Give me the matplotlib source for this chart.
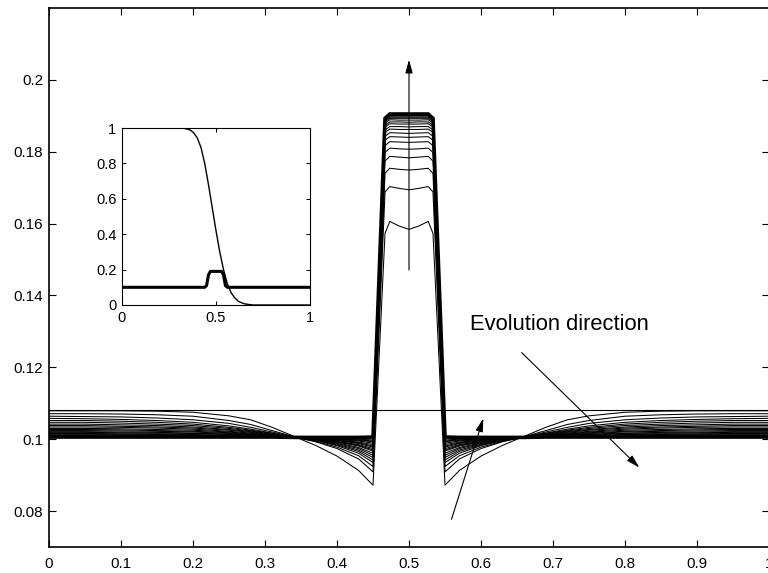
import matplotlib
matplotlib.use("Agg")
import matplotlib.pyplot as plt

plt.rcParams['font.family'] = ['Liberation Sans', 'DejaVu Sans']

# ---------------- data ----------------
# half grid (0 .. 0.5); the profiles are symmetric about x = 0.5
x_half = [0, 0.05, 0.1, 0.15, 0.2, 0.25, 0.28, 0.31, 0.34,
          0.37, 0.40, 0.43, 0.45, 0.4667, 0.4733, 0.4867, 0.5]

initial_level = 0.1082

# one row per time step, values on x_half
profiles_half = [
    [0.1079, 0.1079, 0.1079, 0.1078, 0.1075, 0.1065, 0.1054, 0.1033, 0.1008, 0.0983, 0.0953, 0.0913, 0.0872, 0.1573, 0.1606, 0.1593, 0.1584],
    [0.1071, 0.1071, 0.1070, 0.1068, 0.1064, 0.1052, 0.1041, 0.1024, 0.1007, 0.0993, 0.0974, 0.0945, 0.0909, 0.1688, 0.1703, 0.1698, 0.1694],
    [0.1064, 0.1063, 0.1062, 0.1059, 0.1054, 0.1044, 0.1033, 0.1020, 0.1006, 0.0994, 0.0978, 0.0954, 0.0924, 0.1740, 0.1754, 0.1751, 0.1749],
    [0.1058, 0.1057, 0.1055, 0.1052, 0.1047, 0.1037, 0.1028, 0.1017, 0.1006, 0.0996, 0.0982, 0.0961, 0.0935, 0.1774, 0.1787, 0.1785, 0.1783],
    [0.1052, 0.1052, 0.1050, 0.1047, 0.1042, 0.1033, 0.1025, 0.1016, 0.1005, 0.0997, 0.0984, 0.0966, 0.0942, 0.1798, 0.1810, 0.1808, 0.1807],
    [0.1047, 0.1047, 0.1045, 0.1042, 0.1038, 0.1030, 0.1023, 0.1014, 0.1005, 0.0997, 0.0986, 0.0970, 0.0949, 0.1817, 0.1828, 0.1827, 0.1826],
    [0.1042, 0.1042, 0.1040, 0.1038, 0.1034, 0.1027, 0.1021, 0.1013, 0.1005, 0.0998, 0.0988, 0.0974, 0.0955, 0.1832, 0.1842, 0.1841, 0.1840],
    [0.1038, 0.1038, 0.1036, 0.1034, 0.1031, 0.1025, 0.1019, 0.1012, 0.1005, 0.0999, 0.0990, 0.0977, 0.0961, 0.1843, 0.1853, 0.1852, 0.1851],
    [0.1034, 0.1034, 0.1033, 0.1031, 0.1028, 0.1022, 0.1017, 0.1011, 0.1005, 0.0999, 0.0992, 0.0981, 0.0967, 0.1854, 0.1863, 0.1862, 0.1862],
    [0.1030, 0.1030, 0.1029, 0.1027, 0.1025, 0.1020, 0.1015, 0.1010, 0.1005, 0.1000, 0.0993, 0.0983, 0.0970, 0.1861, 0.1870, 0.1870, 0.1869],
    [0.1027, 0.1027, 0.1026, 0.1024, 0.1022, 0.1018, 0.1014, 0.1010, 0.1005, 0.1000, 0.0994, 0.0985, 0.0974, 0.1869, 0.1878, 0.1877, 0.1877],
    [0.1024, 0.1024, 0.1023, 0.1022, 0.1020, 0.1016, 0.1013, 0.1009, 0.1005, 0.1001, 0.0996, 0.0988, 0.0978, 0.1874, 0.1883, 0.1883, 0.1882],
    [0.1021, 0.1021, 0.1020, 0.1019, 0.1017, 0.1014, 0.1011, 0.1008, 0.1005, 0.1001, 0.0997, 0.0990, 0.0981, 0.1880, 0.1889, 0.1888, 0.1888],
    [0.1019, 0.1019, 0.1018, 0.1017, 0.1016, 0.1013, 0.1011, 0.1008, 0.1004, 0.1002, 0.0998, 0.0992, 0.0985, 0.1884, 0.1893, 0.1893, 0.1893],
    [0.1016, 0.1016, 0.1015, 0.1015, 0.1013, 0.1011, 0.1009, 0.1007, 0.1004, 0.1002, 0.0999, 0.0995, 0.0989, 0.1887, 0.1896, 0.1896, 0.1896],
    [0.1014, 0.1014, 0.1014, 0.1013, 0.1012, 0.1010, 0.1008, 0.1006, 0.1004, 0.1003, 0.1000, 0.0997, 0.0993, 0.1890, 0.1899, 0.1899, 0.1899],
    [0.1012, 0.1012, 0.1012, 0.1011, 0.1010, 0.1009, 0.1008, 0.1006, 0.1004, 0.1003, 0.1001, 0.0998, 0.0995, 0.1892, 0.1901, 0.1901, 0.1901],
    [0.1010, 0.1010, 0.1010, 0.1009, 0.1009, 0.1008, 0.1007, 0.1005, 0.1004, 0.1003, 0.1002, 0.1000, 0.0998, 0.1894, 0.1903, 0.1903, 0.1903],
]
final_half = [0.1006, 0.1006, 0.1006, 0.1006, 0.1006, 0.1006, 0.1006, 0.1006, 0.1005,
              0.1005, 0.1005, 0.1005, 0.1006, 0.1893, 0.1905, 0.1905, 0.1905]

# inset: initial profile (smooth step) and final profile
inset_step_x = [0, 0.1, 0.2, 0.3, 0.33, 0.36, 0.38, 0.40, 0.42, 0.44, 0.46, 0.48, 0.50,
                0.52, 0.54, 0.56, 0.58, 0.60, 0.62, 0.65, 0.68, 0.7, 0.8, 0.9, 1.0]
inset_step_y = [1, 1, 1, 1, 0.998, 0.99, 0.975, 0.945, 0.89, 0.80, 0.68, 0.55, 0.42,
                0.30, 0.20, 0.12, 0.07, 0.04, 0.02, 0.007, 0.002, 0, 0, 0, 0]
inset_final_x = [0, 0.2, 0.44, 0.45, 0.46, 0.47, 0.5, 0.53, 0.54, 0.55, 0.56, 0.8, 1.0]
inset_final_y = [0.1, 0.1, 0.1, 0.11, 0.17, 0.19, 0.19, 0.19, 0.17, 0.11, 0.1, 0.1, 0.1]

x_ticks = [0, 0.1, 0.2, 0.3, 0.4, 0.5, 0.6, 0.7, 0.8, 0.9, 1.0]
x_tick_labels = ['0', '0.1', '0.2', '0.3', '0.4', '0.5', '0.6', '0.7', '0.8', '0.9', '1']
y_ticks = [0.08, 0.1, 0.12, 0.14, 0.16, 0.18, 0.2]
y_tick_labels = ['0.08', '0.1', '0.12', '0.14', '0.16', '0.18', '0.2']
inset_x_ticks = [0, 0.5, 1]
inset_x_labels = ['0', '0.5', '1']
inset_y_ticks = [0, 0.2, 0.4, 0.6, 0.8, 1]
inset_y_labels = ['0', '0.2', '0.4', '0.6', '0.8', '1']

annotation_text = 'Evolution direction'


def mirror(xh, yh):
    xs = list(xh) + [1 - v for v in reversed(xh[:-1])]
    ys = list(yh) + list(reversed(yh[:-1]))
    return xs, ys


# ---------------- figure ----------------
W, H = 768, 573
fig = plt.figure(figsize=(W / 100, H / 100), dpi=100)
ax = fig.add_axes([49 / W, 26 / H, 720 / W, 539 / H])

ax.axhline(initial_level, color='black', lw=0.8)
for prof in profiles_half:
    xs, ys = mirror(x_half, prof)
    ax.plot(xs, ys, color='black', lw=0.75)
xs, ys = mirror(x_half, final_half)
ax.plot(xs, ys, color='black', lw=2.6, solid_joinstyle='miter')

ax.set_xlim(0, 1)
ax.set_ylim(0.07, 0.22)
ax.set_xticks(x_ticks)
ax.set_xticklabels(x_tick_labels)
ax.set_yticks(y_ticks)
ax.set_yticklabels(y_tick_labels)
ax.tick_params(direction='in', top=True, right=True, length=5, width=0.8,
               labelsize=11)
ax.tick_params(axis='x', pad=7)
ax.tick_params(axis='y', pad=4)
for s in ax.spines.values():
    s.set_linewidth(1.2)

arrow_style = dict(arrowstyle='-|>,head_length=0.8,head_width=0.22',
                   color='black', lw=0.8, mutation_scale=10, shrinkA=0, shrinkB=0)
ax.annotate('', xy=(0.5, 0.2056), xytext=(0.5, 0.1471), arrowprops=arrow_style)
ax.annotate('', xy=(0.6032, 0.1058), xytext=(0.559, 0.0777), arrowprops=arrow_style)
ax.annotate('', xy=(0.820, 0.0921), xytext=(0.6565, 0.1241), arrowprops=arrow_style)
ax.text(0.585, 0.1318, annotation_text, fontsize=15.8, ha='left', va='center')

# inset
ax2 = fig.add_axes([122 / W, (H - 305) / H, 188 / W, 177 / H])
ax2.plot(inset_step_x, inset_step_y, color='black', lw=1.0)
ax2.plot(inset_final_x, inset_final_y, color='black', lw=2.2)
ax2.set_xlim(0, 1)
ax2.set_ylim(0, 1)
ax2.set_xticks(inset_x_ticks)
ax2.set_xticklabels(inset_x_labels)
ax2.set_yticks(inset_y_ticks)
ax2.set_yticklabels(inset_y_labels)
ax2.tick_params(direction='in', top=True, right=True, length=3, width=0.7,
                labelsize=10.5, pad=4)
for s in ax2.spines.values():
    s.set_linewidth(0.8)

fig.savefig('out.png', dpi=100)
